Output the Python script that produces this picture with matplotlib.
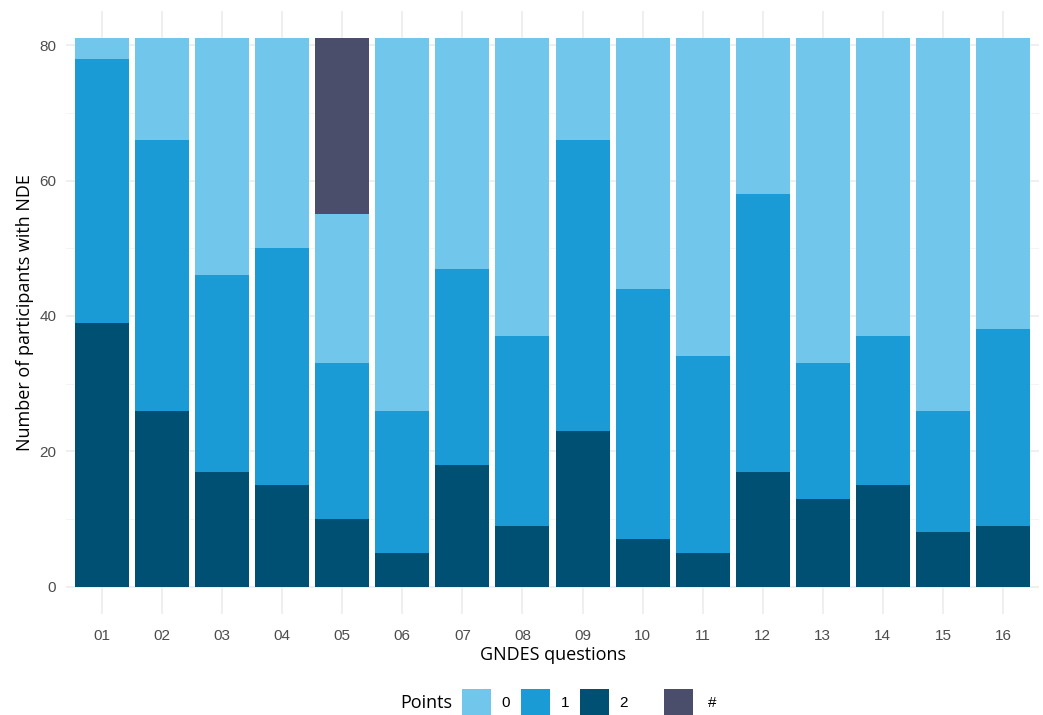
import matplotlib
matplotlib.use("Agg")
import matplotlib.pyplot as plt
from matplotlib.patches import Rectangle
import numpy as np

questions = ["01","02","03","04","05","06","07","08","09","10","11","12","13","14","15","16"]
pts2 = [39, 26, 17, 15, 10, 5, 18, 9, 23, 7, 5, 17, 13, 15, 8, 9]
pts1 = [39, 40, 29, 35, 23, 21, 29, 28, 43, 37, 29, 41, 20, 22, 18, 29]
pts0 = [3, 15, 35, 31, 22, 55, 34, 44, 15, 37, 47, 23, 48, 44, 55, 43]
ptsH = [0, 0, 0, 0, 26, 0, 0, 0, 0, 0, 0, 0, 0, 0, 0, 0]

legend_labels = ["0", "1", "2", "#"]
colors = {"0": "#71C6EC", "1": "#1A9BD5", "2": "#005073", "#": "#4A4E6B"}

W, H = 1043, 715
fig = plt.figure(figsize=(W/100, H/100), dpi=100)
ax = fig.add_axes([66/W, 1-614/H, 973/W, 603/H])

x = np.arange(1, len(questions)+1)
b2 = np.array(pts2); b1 = np.array(pts1); b0 = np.array(pts0); bh = np.array(ptsH)
ax.bar(x, b2, width=0.9, color=colors["2"], zorder=3)
ax.bar(x, b1, bottom=b2, width=0.9, color=colors["1"], zorder=3)
ax.bar(x, b0, bottom=b2+b1, width=0.9, color=colors["0"], zorder=3)
ax.bar(x, bh, bottom=b2+b1+b0, width=0.9, color=colors["#"], zorder=3)

ax.set_xlim(0.4, 16.6)
ax.set_ylim(-4.05, 85.05)
ax.set_xticks(x)
ax.set_xticklabels(questions)
ax.set_yticks([0, 20, 40, 60, 80])
ax.set_yticks([10, 30, 50, 70], minor=True)
ax.tick_params(axis="both", which="both", length=0, labelsize=11, labelcolor="#4D4D4D")
ax.tick_params(axis="x", pad=11)
ax.tick_params(axis="y", pad=7)
for lab in ax.get_xticklabels() + ax.get_yticklabels():
    lab.set_family("Liberation Sans")
ax.grid(True, which="major", color="#EBEBEB", linewidth=1.1, zorder=0)
ax.grid(True, which="minor", axis="y", color="#F2F2F2", linewidth=0.6, zorder=0)
for s in ax.spines.values():
    s.set_visible(False)

ax.set_xlabel("GNDES questions", fontsize=13, family="Open Sans", labelpad=2)
ax.set_ylabel("Number of participants with NDE", fontsize=13, family="Open Sans", labelpad=4)

# legend drawn manually in figure pixel coordinates
def px(xp, yp):
    return xp/W, 1-yp/H

fig.text(*px(452, 703), "Points", ha="right", va="center", fontsize=13, family="Open Sans")
box_x = [462, 521, 580, 664]
lab_x = [506, 565, 623, 712]
for lbl, bx, lx in zip(legend_labels, box_x, lab_x):
    x0, y0 = px(bx, 717)
    fig.add_artist(Rectangle((x0, y0), 29/W, 28/H, transform=fig.transFigure,
                             facecolor=colors[lbl], edgecolor="none"))
    fig.text(*px(lx, 703), lbl, ha="center", va="center", fontsize=11,
             family="Liberation Sans", color="black")

fig.savefig("out.png", dpi=100)
